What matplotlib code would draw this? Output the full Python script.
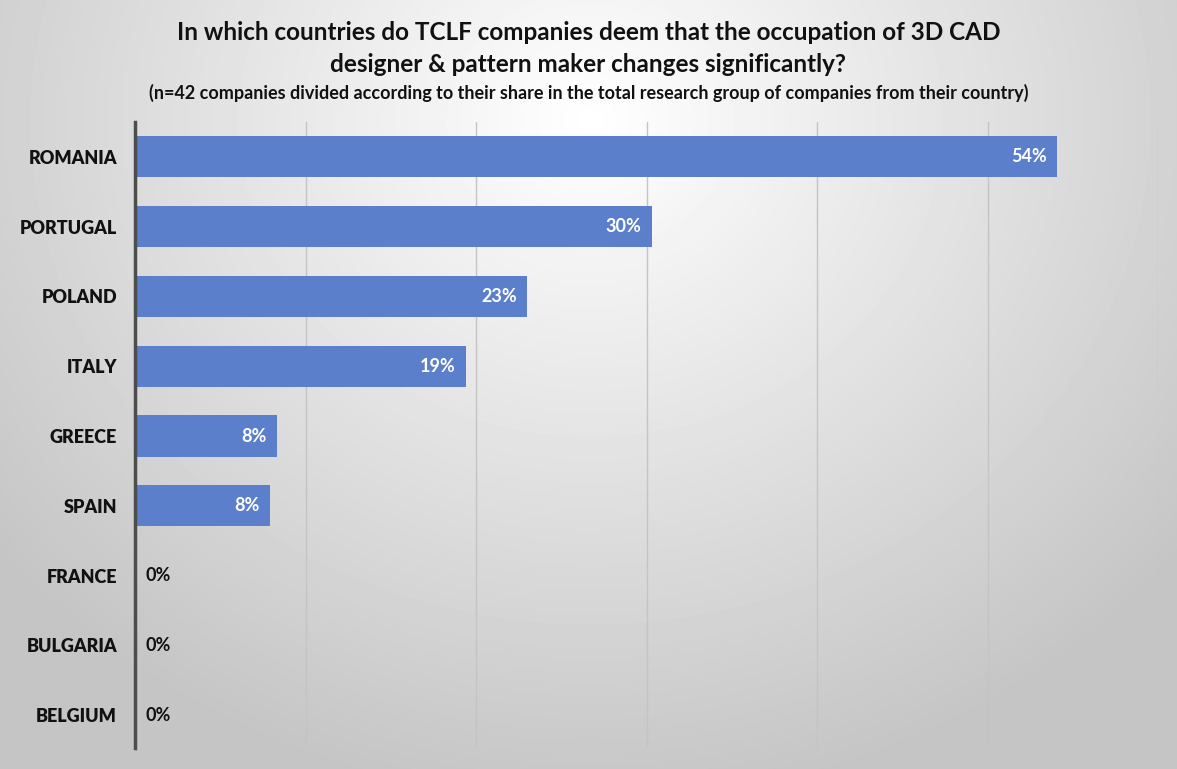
import numpy as np
import matplotlib
matplotlib.use("Agg")
import matplotlib.pyplot as plt

countries = ["ROMANIA", "PORTUGAL", "POLAND", "ITALY", "GREECE", "SPAIN",
             "FRANCE", "BULGARIA", "BELGIUM"]
shares = [54.1, 30.3, 23.0, 19.4, 8.3, 7.9, 0.0, 0.0, 0.0]
labels = ["54%", "30%", "23%", "19%", "8%", "8%", "0%", "0%", "0%"]

TITLE_1 = "In which countries do TCLF companies deem that the occupation of 3D CAD"
TITLE_2 = "designer & pattern maker changes significantly?"
SUBTITLE = ("(n=42 companies divided according to their share in the total research "
            "group of companies from their country)")

plt.rcParams["font.family"] = ["Lato", "DejaVu Sans"]
BAR = "#5b7fca"

fig = plt.figure(figsize=(11.77, 7.69), dpi=100)

# radial grey gradient background
bg = fig.add_axes([0, 0, 1, 1], zorder=-10)
yy, xx = np.mgrid[0:769, 0:1177]
r = np.sqrt(((xx - 590) / 1000.0) ** 2 + ((yy - 120) / 900.0) ** 2)
shade = np.clip(1.0 - 0.30 * r, 0.77, 1.0)
bg.imshow(shade, cmap="gray", vmin=0, vmax=1, aspect="auto", interpolation="bilinear")
bg.set_axis_off()

ax = fig.add_axes([0.1147, 0.0273, 0.8692, 0.8141])
ax.patch.set_alpha(0)
y = np.arange(len(countries))
ax.barh(y, shares, height=0.59, color=BAR, zorder=3)
ax.set_xlim(0, 60)
ax.set_ylim(len(countries) - 0.53, -0.5)
ax.set_xticks(np.arange(0, 61, 10))
ax.set_xticklabels([])
ax.tick_params(length=0)
ax.grid(axis="x", color="#c4c4c4", linewidth=1, zorder=0)
ax.set_yticks(y)
ax.set_yticklabels(countries, fontsize=13, fontweight="heavy", color="#111111")
ax.tick_params(axis="y", pad=13)
for s in ["top", "right", "bottom"]:
    ax.spines[s].set_visible(False)
ax.spines["left"].set_color("#4d4d4d")
ax.spines["left"].set_linewidth(2.5)
ax.spines["left"].set_zorder(4)

for yi, v, lab in zip(y, shares, labels):
    if v > 0:
        ax.text(v - 0.6, yi, lab, ha="right", va="center", color="white",
                fontsize=13, fontweight="bold", zorder=5)
    else:
        ax.text(0.6, yi, lab, ha="left", va="center", color="#111111",
                fontsize=13, fontweight="bold", zorder=5)

fig.text(0.5, 1 - 33 / 769, TITLE_1, ha="center", va="center", fontsize=17.5,
         fontweight="bold", color="#111111")
fig.text(0.5, 1 - 64 / 769, TITLE_2, ha="center", va="center", fontsize=17.5,
         fontweight="bold", color="#111111")
fig.text(0.5, 1 - 93 / 769, SUBTITLE, ha="center", va="center", fontsize=13,
         fontweight="bold", color="#111111")

fig.savefig("out.png", dpi=100)
